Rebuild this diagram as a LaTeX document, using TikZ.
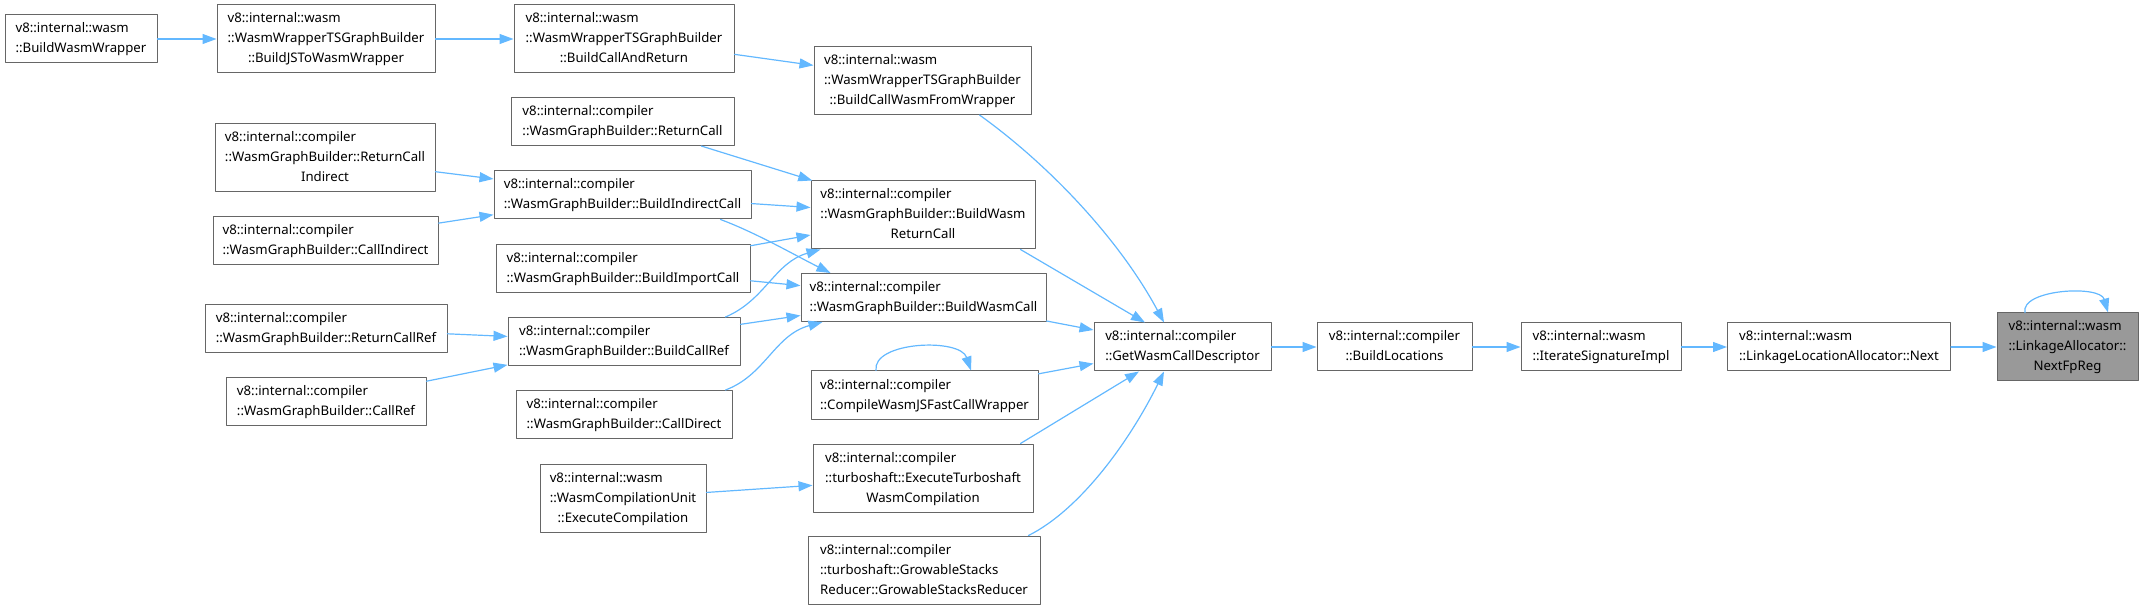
\documentclass[tikz,border=0pt]{standalone}
\usepackage{fontspec}
\setmainfont{Noto Sans}
\usetikzlibrary{arrows.meta}

\definecolor{edgeblue}{HTML}{63B8FF}
\definecolor{boxgray}{HTML}{666666}
\definecolor{rootfill}{HTML}{999999}

\newcommand{\twoline}[2]{\begin{tabular}{@{}l@{}}#1\\\multicolumn{1}{@{}c@{}}{#2}\end{tabular}}
\newcommand{\threeline}[3]{\begin{tabular}{@{}l@{}}#1\\#2\\\multicolumn{1}{@{}c@{}}{#3}\end{tabular}}

\begin{document}
\begin{tikzpicture}[x=1pt, y=-1pt, line cap=round, line join=round,
  fn/.style={draw=boxgray, line width=1pt, fill=white, inner sep=0pt,
    minimum height=48pt, font=\fontsize{13.2}{20}\selectfont},
  tall/.style={minimum height=68pt},
  call/.style={draw=edgeblue, line width=1.2pt, -{Triangle[length=14pt,width=10pt]}}]
  \useasboundingbox (0,0) rectangle (2144,609);

  \node[fn, minimum width=152pt] (bww) at (81,39) {\twoline{v8::internal::wasm}{::BuildWasmWrapper}};
  \node[fn, tall, minimum width=218pt] (bjs) at (326,39) {\threeline{v8::internal::wasm}{::WasmWrapperTSGraphBuilder}{::BuildJSToWasmWrapper}};
  \node[fn, tall, minimum width=220pt] (bcar) at (624,39) {\threeline{v8::internal::wasm}{::WasmWrapperTSGraphBuilder}{::BuildCallAndReturn}};
  \node[fn, tall, minimum width=217pt] (bcwfw) at (922.5,80.5) {\threeline{v8::internal::wasm}{::WasmWrapperTSGraphBuilder}{::BuildCallWasmFromWrapper}};
  \node[fn, minimum width=223pt] (rc) at (622.5,121.5) {\twoline{v8::internal::compiler}{::WasmGraphBuilder::ReturnCall}};
  \node[fn, tall, minimum width=220pt] (rci) at (325,158) {\threeline{v8::internal::compiler}{::WasmGraphBuilder::ReturnCall}{Indirect}};
  \node[fn, minimum width=257pt] (bic) at (622.5,195) {\twoline{v8::internal::compiler}{::WasmGraphBuilder::BuildIndirectCall}};
  \node[fn, tall, minimum width=224pt] (bwrc) at (923,215) {\threeline{v8::internal::compiler}{::WasmGraphBuilder::BuildWasm}{ReturnCall}};
  \node[fn, minimum width=225pt] (ci) at (325.5,240.5) {\twoline{v8::internal::compiler}{::WasmGraphBuilder::CallIndirect}};
  \node[fn, minimum width=254pt] (bimc) at (623,268.5) {\twoline{v8::internal::compiler}{::WasmGraphBuilder::BuildImportCall}};
  \node[fn, minimum width=245pt] (bwc) at (923.5,297.5) {\twoline{v8::internal::compiler}{::WasmGraphBuilder::BuildWasmCall}};
  \node[fn, minimum width=242pt] (rcr) at (326,328.5) {\twoline{v8::internal::compiler}{::WasmGraphBuilder::ReturnCallRef}};
  \node[fn, minimum width=232pt] (bcr) at (624,341.5) {\twoline{v8::internal::compiler}{::WasmGraphBuilder::BuildCallRef}};
  \node[fn, minimum width=200pt] (cr) at (326,401.5) {\twoline{v8::internal::compiler}{::WasmGraphBuilder::CallRef}};
  \node[fn, minimum width=216pt] (cd) at (624,414.5) {\twoline{v8::internal::compiler}{::WasmGraphBuilder::CallDirect}};
  \node[fn, minimum width=227pt] (cwjs) at (924.5,395) {\twoline{v8::internal::compiler}{::CompileWasmJSFastCallWrapper}};
  \node[fn, tall, minimum width=166pt] (ec) at (623,498) {\threeline{v8::internal::wasm}{::WasmCompilationUnit}{::ExecuteCompilation}};
  \node[fn, tall, minimum width=220pt] (etwc) at (923,478) {\threeline{v8::internal::compiler}{::turboshaft::ExecuteTurboshaft}{WasmCompilation}};
  \node[fn, tall, minimum width=232pt] (gsr) at (924,570) {\threeline{v8::internal::compiler}{::turboshaft::GrowableStacks}{Reducer::GrowableStacksReducer}};
  \node[fn, minimum width=177pt] (gwcd) at (1182.5,347) {\twoline{v8::internal::compiler}{::GetWasmCallDescriptor}};
  \node[fn, minimum width=155pt] (bl) at (1394.5,347) {\twoline{v8::internal::compiler}{::BuildLocations}};
  \node[fn, minimum width=160pt] (isi) at (1601,347) {\twoline{v8::internal::wasm}{::IterateSignatureImpl}};
  \node[fn, minimum width=223pt] (lla) at (1839,347) {\twoline{v8::internal::wasm}{::LinkageLocationAllocator::Next}};
  \node[fn, tall, fill=rootfill, minimum width=141pt] (nfp) at (2067.5,347) {\threeline{v8::internal::wasm}{::LinkageAllocator::}{NextFpReg}};

  \draw[call] (bww) -- (bjs);
  \draw[call] (bjs) -- (bcar);
  \draw[call] (bcar) -- (bcwfw);
  \draw[call] ([xshift=-52pt]bcwfw.south east) .. controls +(71,51) and +(-44,-82) .. ([xshift=-18.5pt]gwcd.north);
  \draw[call] (rc) -- (bwrc);
  \draw[call] (rci) -- (bic);
  \draw[call] (ci) -- (bic);
  \draw[call] (bic) -- (bwrc);
  \draw[call] ([xshift=-31pt]bic.south east) .. controls +(35,13) and +(-36,-18) .. ([xshift=30pt]bwc.north west);
  \draw[call] (bimc) -- (bwrc);
  \draw[call] (bimc) -- (bwc);
  \draw[call] (rcr) -- (bcr);
  \draw[call] (cr) -- (bcr);
  \draw[call] ([xshift=-15pt]bcr.north east) .. controls +(40,-17) and +(-46,13) .. ([xshift=10pt]bwrc.south west);
  \draw[call] (bcr) -- (bwc);
  \draw[call] ([xshift=-7pt]cd.north east) .. controls +(40,-15) and +(-48,13) .. ([xshift=22pt]bwc.south west);
  \draw[call] ([xshift=-15pt]bwrc.south east) -- ([xshift=-37.5pt]gwcd.north);
  \draw[call] (bwc) -- (gwcd);
  \draw[call] ([xshift=-48.5pt]cwjs.north) .. controls +(-4,-29) and +(-11,-33) .. ([xshift=46.5pt]cwjs.north);
  \draw[call] (cwjs) -- (gwcd);
  \draw[call] (ec) -- (etwc);
  \draw[call] ([xshift=-13pt]etwc.north east) -- ([xshift=-43.5pt]gwcd.south);
  \draw[call] ([xshift=-12pt]gsr.north east) .. controls +(52,-26) and +(-34,69) .. ([xshift=-18.5pt]gwcd.south);
  \draw[call] (gwcd) -- (bl);
  \draw[call] (bl) -- (isi);
  \draw[call] (isi) -- (lla);
  \draw[call] (lla) -- (nfp);
  \draw[call] ([xshift=-42.5pt]nfp.north) .. controls +(-5,-23) and +(-8,-28) .. ([xshift=40.5pt]nfp.north);
\end{tikzpicture}
\end{document}
